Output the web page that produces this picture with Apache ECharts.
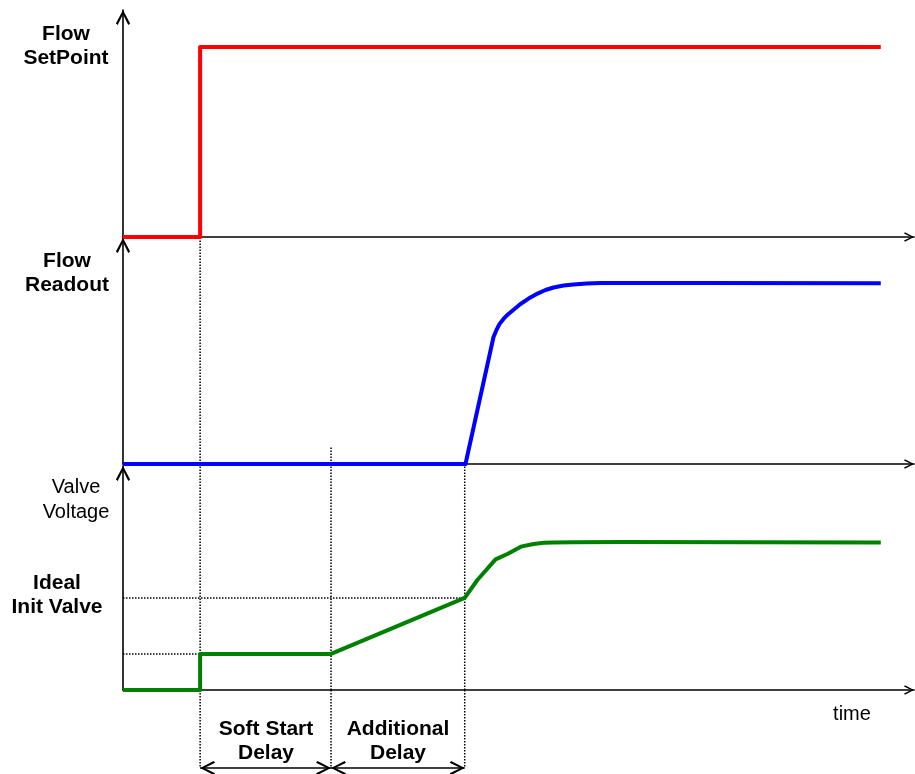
<!DOCTYPE html>
<html>
<head>
<meta charset="utf-8">
<script src="https://cdn.jsdelivr.net/npm/echarts@6.0.0/dist/echarts.min.js"></script>
<style>
  html, body { margin: 0; padding: 0; background: #fff; }
  #timingChart { width: 915px; height: 774px; }
</style>
</head>
<body>
<div id="timingChart"></div>
<script>
// time runs 0..100 on every panel, each panel's level runs 0..1
var stepT = 9.75;        // setpoint step / start of soft start delay
var softEndT = 26.3;     // end of soft start, start of additional delay
var addEndT = 43.2;      // end of additional delay

// Flow SetPoint
var setpointT = [0, 9.75, 9.75, 95.8];
var setpointV = [0, 0, 0.837, 0.837];

// Flow Readout
var readoutT = [0, 43.3, 46.84, 47.22, 47.59, 48.10, 48.73, 49.49, 50.25, 51.27, 52.41, 53.42, 54.43, 55.70, 56.96, 58.61, 60.38, 73.0, 95.8];
var readoutV = [0, 0, 0.562, 0.593, 0.619, 0.642, 0.664, 0.686, 0.708, 0.732, 0.754, 0.770, 0.781, 0.790, 0.794, 0.799, 0.801, 0.801, 0.800];

// Valve Voltage
var valveT = [0, 9.75, 9.75, 26.3, 43.2, 44.8, 47.1, 48.6, 50.3, 51.9, 53.2, 54.4, 57.0, 62.9, 95.8];
var valveV = [0, 0, 0.161, 0.161, 0.411, 0.491, 0.583, 0.607, 0.640, 0.652, 0.657, 0.659, 0.660, 0.661, 0.658];

// dotted reference levels on the valve panel
var softStartLevel = 0.161;
var idealInitLevel = 0.411;

var labelTexts = ['Flow\nSetPoint', 'Flow\nReadout', 'Valve\nVoltage', 'Ideal\nInit Valve', 'time', 'Soft Start\nDelay', 'Additional\nDelay'];

var chartDom = document.getElementById('timingChart');
var myChart = echarts.init(chartDom);

function pairs(t, v) {
  return t.map(function (x, i) { return [x, v[i]]; });
}

// open arrow head, tip at top
var chevron = 'path://M7,0L14,13.4L12.2,14.8L7,4.2L1.8,14.8L0,13.4Z';
var FONT = '"Liberation Sans", Arial, sans-serif';

function xAxisFor(i, visible) {
  return {
    type: 'value', gridIndex: i, min: 0, max: 100, show: visible,
    axisLine: {
      symbol: ['none', chevron], symbolSize: [15, 10], symbolOffset: [0, -5],
      lineStyle: { color: '#000', width: 1.6 }
    },
    axisTick: { show: false }, axisLabel: { show: false }, splitLine: { show: false }
  };
}
function yAxisFor(i, visible) {
  return {
    type: 'value', gridIndex: i, min: 0, max: 1, show: visible,
    axisLine: {
      symbol: ['none', chevron], symbolSize: [15, 15], symbolOffset: [0, -7.5],
      lineStyle: { color: '#000', width: 1.6 }
    },
    axisTick: { show: false }, axisLabel: { show: false }, splitLine: { show: false }
  };
}

// dotted guide line
function dotted(grid, pts) {
  return {
    type: 'line', xAxisIndex: grid, yAxisIndex: grid, data: pts,
    symbol: 'none', silent: true, clip: false, z: 1,
    lineStyle: { color: '#000', width: 1.5, type: [1.5, 1.5] }
  };
}
function trace(grid, data, color) {
  return {
    type: 'line', xAxisIndex: grid, yAxisIndex: grid, data: data,
    symbol: 'none', silent: true, clip: false, z: 3,
    lineStyle: { color: color, width: 4, join: 'round' }
  };
}

var arrowY = 0.071;
var bandSeries = dotted(3, [[stepT, 1], [stepT, arrowY], [stepT, '-'],
  [softEndT, 1], [softEndT, arrowY], [softEndT, '-'],
  [addEndT, 1], [addEndT, arrowY]]);
bandSeries.markLine = {
  silent: true,
  animation: false,
  symbol: [chevron, chevron],
  symbolSize: [14, 15],
  symbolOffset: [[0, 7.5], [0, 7.5]],
  label: { show: false },
  emphasis: { disabled: true },
  lineStyle: { type: 'solid', color: '#000', width: 1.6 },
  data: [
    [{ coord: [stepT, arrowY] }, { coord: [softEndT, arrowY] }],
    [{ coord: [softEndT, arrowY] }, { coord: [addEndT, arrowY] }]
  ]
};

var labelPos = [
  [66, 46, true], [67, 273, true], [76, 500, false], [57, 595, true],
  [852, 714, false], [266, 741, true], [398, 741, true]
];

var option = {
  animation: false,
  backgroundColor: '#fff',
  grid: [
    { left: 123, width: 791, top: 10, height: 227 },
    { left: 123, width: 791, top: 238, height: 226 },
    { left: 123, width: 791, top: 466, height: 224 },
    { left: 123, width: 791, top: 690, height: 84 }
  ],
  xAxis: [xAxisFor(0, true), xAxisFor(1, true), xAxisFor(2, true), xAxisFor(3, false)],
  yAxis: [yAxisFor(0, true), yAxisFor(1, true), yAxisFor(2, true), yAxisFor(3, false)],
  series: [
    // guides
    dotted(1, [[stepT, 0], [stepT, 1], [stepT, '-'], [softEndT, 0], [softEndT, 0.08]]),
    dotted(2, [[stepT, 0], [stepT, 1], [stepT, '-'], [softEndT, 0], [softEndT, 1], [softEndT, '-'], [addEndT, 0], [addEndT, 1]]),
    dotted(2, [[0, softStartLevel], [stepT, softStartLevel], [stepT, '-'], [0, idealInitLevel], [addEndT, idealInitLevel]]),
    bandSeries,
    // signals
    trace(0, pairs(setpointT, setpointV), '#ff0000'),
    trace(1, pairs(readoutT, readoutV), '#0000ff'),
    trace(2, pairs(valveT, valveV), '#008000')
  ],
  graphic: labelTexts.map(function (txt, i) {
    var p = labelPos[i];
    return {
      type: 'text', x: p[0], y: p[1], silent: true,
      style: {
        text: txt, fill: '#000', textAlign: 'center', textVerticalAlign: 'middle',
        fontFamily: FONT, fontSize: p[2] ? 21 : 20, fontWeight: p[2] ? 'bold' : 'normal',
        lineHeight: 24.5
      }
    };
  })
};

myChart.setOption(option);
</script>
</body>
</html>
